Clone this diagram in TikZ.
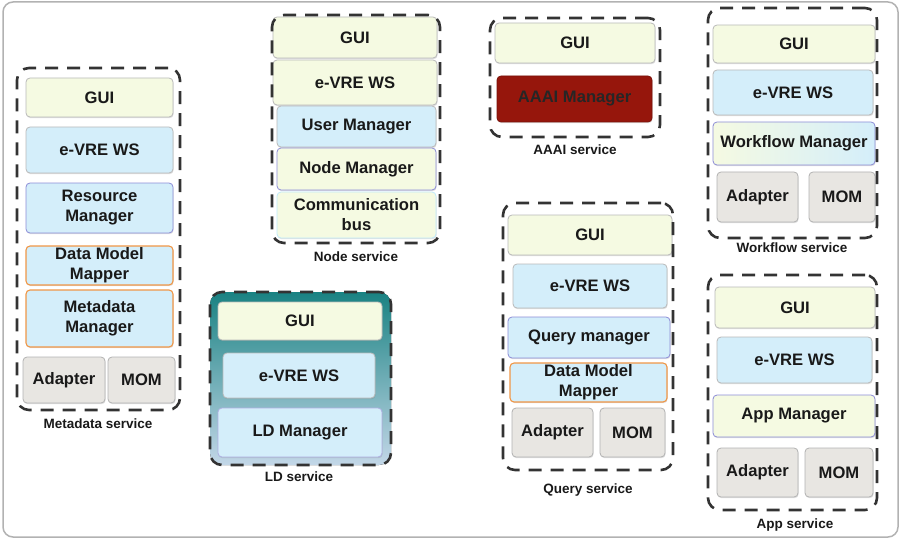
\documentclass[tikz,border=0pt]{standalone}
\usepackage{fontspec}
\setmainfont{Liberation Sans}
\usetikzlibrary{shadows}
\definecolor{gy}{RGB}{245,250,226}
\definecolor{lb}{RGB}{212,238,250}
\definecolor{gr}{RGB}{232,230,226}
\definecolor{pb}{RGB}{140,140,215}
\definecolor{orb}{RGB}{240,150,70}
\definecolor{dred}{RGB}{150,22,12}
\definecolor{txt}{RGB}{25,25,25}
\definecolor{tealtop}{RGB}{25,130,130}
\definecolor{tealbot}{RGB}{195,215,232}
\tikzset{
  box/.style={rounded corners=4pt, draw=gray!55, line width=0.8pt, inner sep=0pt, outer sep=0pt,
     align=center, text=txt, font=\fontsize{16.6}{20}\selectfont\bfseries,
     drop shadow={shadow xshift=0.6pt, shadow yshift=-1.2pt, opacity=0.25}},
  gui/.style={box, fill=gy},
  ws/.style={box, fill=lb},
  grey/.style={box, fill=gr, draw=gray!60},
  pbord/.style={draw=pb},
  obord/.style={draw=orb, line width=1.1pt},
  cont/.style={draw=black!80, line width=2.6pt, dash pattern=on 13pt off 9pt, rounded corners=12pt,
     inner sep=0pt, outer sep=0pt},
  lab/.style={text=txt, font=\fontsize{13.5}{16}\selectfont\bfseries, inner sep=0pt},
}
\newcommand\mybox[7]{%
  \node[#6, minimum width={(#4-#2)*1pt}, minimum height={(#5-#3)*1pt}] (#1) at ({(#2+#4)/2},{(#3+#5)/2}) {#7};}
\begin{document}
\begin{tikzpicture}[x=1pt,y=-1pt]
\useasboundingbox (0,0) rectangle (901,540);
\draw[draw=gray!60, line width=1.5pt, rounded corners=10pt] (3,2) rectangle (898,537);

% Metadata service
\mybox{mdgui}{26}{78}{173}{117}{gui}{GUI}
\mybox{mdws}{26}{127}{173}{173}{ws}{e-VRE WS}
\mybox{mdrm}{26}{183}{173}{233}{ws,pbord}{Resource\\Manager}
\mybox{mddmm}{26}{246}{173}{285}{ws,obord}{Data Model\\Mapper}
\mybox{mdmm}{26}{290}{173}{347}{ws,obord}{Metadata\\Manager}
\mybox{mdad}{23}{357}{105}{403}{grey}{Adapter}
\mybox{mdmom}{108}{357}{175}{403}{grey}{MOM}
\mybox{mdc}{17}{68}{180}{410}{cont}{}
\node[lab] (mdl) at (98,424) {Metadata service};

% Node service
\mybox{ngui}{273}{17}{437}{58}{gui}{GUI}
\mybox{nws}{273}{60}{437}{105}{gui}{e-VRE WS}
\mybox{num}{277}{106}{436}{147}{ws}{User Manager}
\mybox{nnm}{277}{148}{436}{190}{gui,pbord}{Node Manager}
\mybox{ncb}{277}{192}{436}{238}{gui,draw=cyan!25}{Communication\\bus}
\mybox{nc}{272}{15}{440}{243}{cont}{}
\node[lab] (nl) at (356,257) {Node service};

% LD service
\fill[top color=tealtop, bottom color=tealbot, rounded corners=12pt] (210,292) rectangle (391,465);
\mybox{ldgui}{218}{302}{382}{340}{gui}{GUI}
\mybox{ldws}{223}{353}{375}{398}{ws}{e-VRE WS}
\mybox{ldm}{218}{408}{382}{457}{ws,draw=pb!70}{LD Manager}
\mybox{ldc}{210}{292}{391}{465}{cont}{}
\node[lab] (ldl) at (299,477) {LD service};

% AAAI service
\mybox{agui}{495}{23}{655}{63}{gui}{GUI}
\mybox{am}{497}{76}{652}{122}{box,fill=dred,draw=dred!80!black,text=black!85}{AAAI Manager}
\mybox{ac}{490}{18}{660}{137}{cont}{}
\node[lab] (al) at (575,150) {AAAI service};

% Query service
\mybox{qgui}{508}{215}{672}{255}{gui}{GUI}
\mybox{qws}{513}{264}{667}{308}{ws}{e-VRE WS}
\mybox{qqm}{508}{317}{670}{358}{ws,pbord}{Query manager}
\mybox{qdmm}{510}{363}{667}{402}{ws,obord}{Data Model\\Mapper}
\mybox{qad}{512}{408}{593}{457}{grey}{Adapter}
\mybox{qmom}{600}{408}{665}{457}{grey}{MOM}
\mybox{qc}{503}{203}{673}{470}{cont}{}
\node[lab] (ql) at (588,490) {Query service};

% Workflow service
\mybox{wgui}{713}{25}{875}{63}{gui}{GUI}
\mybox{wws}{713}{70}{873}{115}{ws}{e-VRE WS}
\mybox{wwm}{713}{122}{875}{165}{box,draw=pb,left color=gy,right color=lb}{Workflow Manager}
\mybox{wad}{717}{172}{798}{222}{grey}{Adapter}
\mybox{wmom}{809}{172}{875}{222}{grey}{MOM}
\mybox{wc}{708}{8}{877}{238}{cont}{}
\node[lab] (wl) at (792,248) {Workflow service};

% App service
\mybox{pgui}{715}{287}{875}{328}{gui}{GUI}
\mybox{pws}{717}{337}{872}{383}{ws}{e-VRE WS}
\mybox{pam}{713}{395}{875}{437}{gui,pbord}{App Manager}
\mybox{pad}{717}{448}{798}{497}{grey}{Adapter}
\mybox{pmom}{805}{448}{873}{497}{grey}{MOM}
\mybox{pc}{708}{275}{877}{510}{cont}{}
\node[lab] (pl) at (795,525) {App service};
\end{tikzpicture}
\end{document}
